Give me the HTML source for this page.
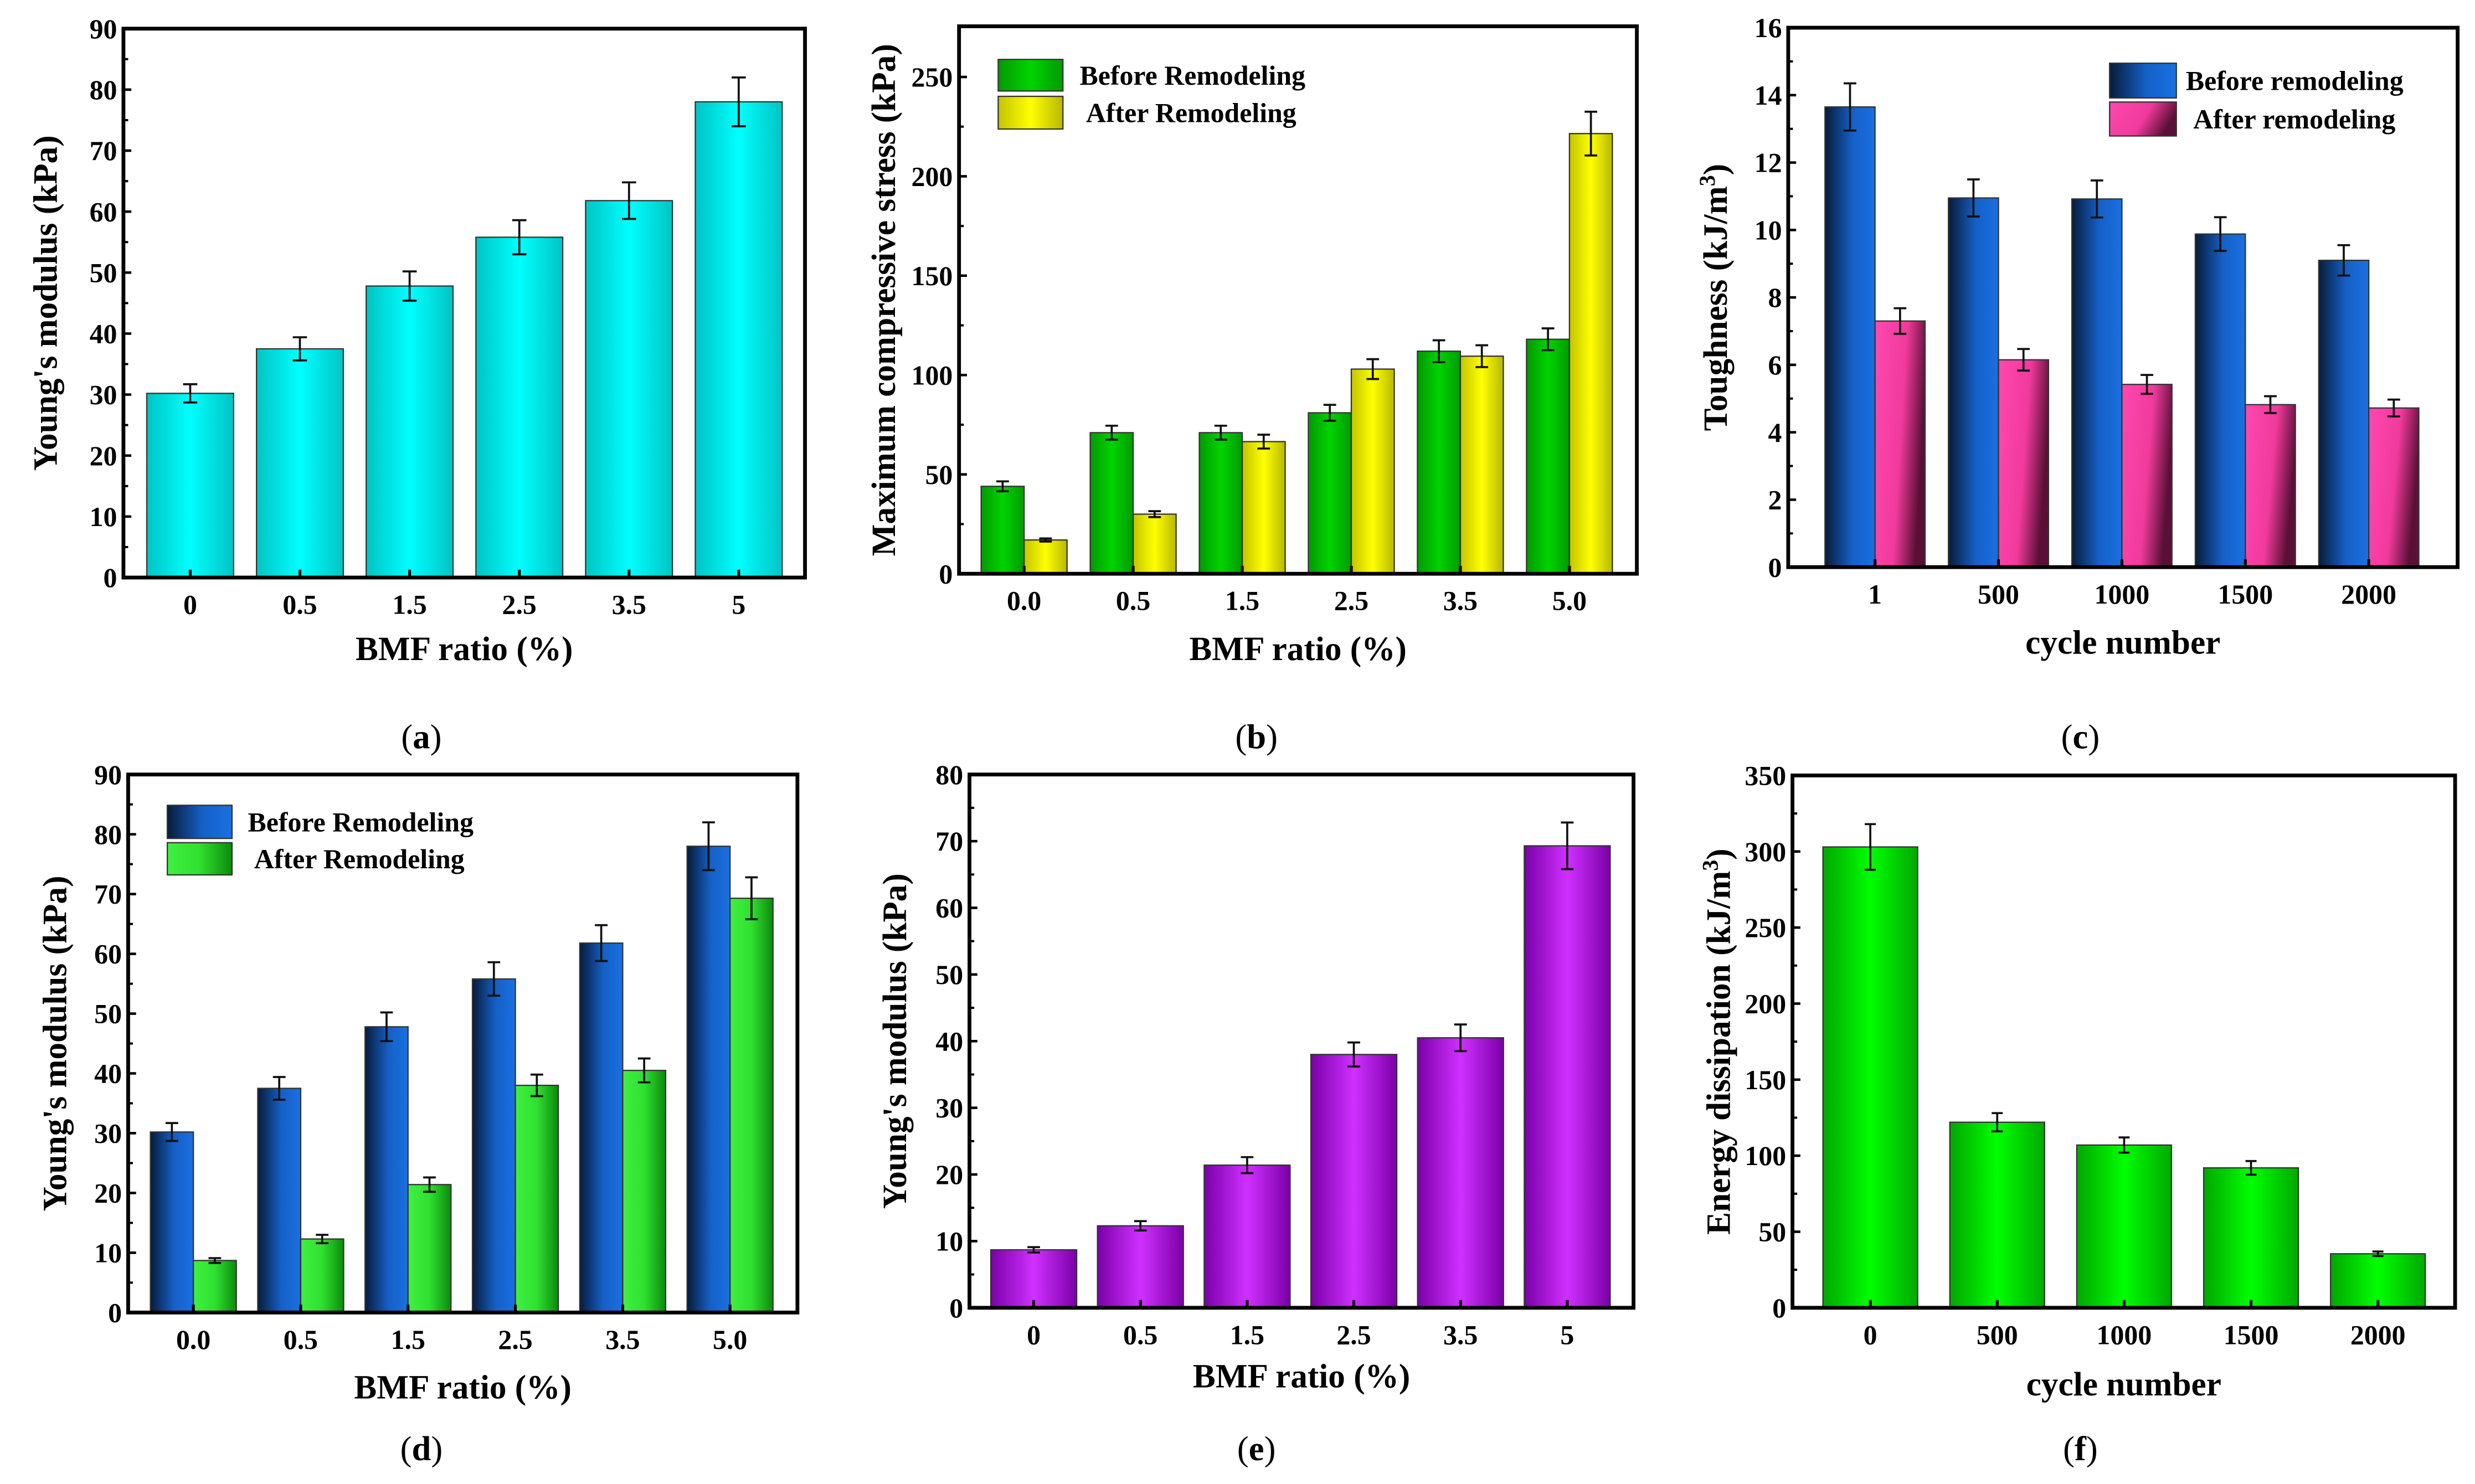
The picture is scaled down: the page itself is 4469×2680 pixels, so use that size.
<!DOCTYPE html>
<html><head><meta charset="utf-8"><style>
html,body{margin:0;padding:0;background:#fff;}
svg{display:block;}
text{font-family:"Liberation Serif",serif;}
</style></head><body>
<svg id="fig" xmlns="http://www.w3.org/2000/svg" width="4469" height="2680" viewBox="0 0 1568 940">
<defs>
<linearGradient id="gCyan" x1="0" x2="1"><stop offset="0" stop-color="#00c4c4"/><stop offset="0.5" stop-color="#00ffff"/><stop offset="1" stop-color="#00c4c4"/></linearGradient>
<linearGradient id="gGreenB" x1="0" x2="1"><stop offset="0" stop-color="#009a00"/><stop offset="0.5" stop-color="#00d400"/><stop offset="1" stop-color="#009a00"/></linearGradient>
<linearGradient id="gYellow" x1="0" x2="1"><stop offset="0" stop-color="#c4c400"/><stop offset="0.5" stop-color="#ffff00"/><stop offset="1" stop-color="#b8b800"/></linearGradient>
<linearGradient id="gBlue" x1="0" x2="1"><stop offset="0" stop-color="#071c3a"/><stop offset="0.55" stop-color="#1560c8"/><stop offset="1" stop-color="#1a70e0"/></linearGradient>
<linearGradient id="gPink" x1="0" x2="1" y1="0" y2="0.3"><stop offset="0" stop-color="#ff48b0"/><stop offset="0.6" stop-color="#f03a9c"/><stop offset="1" stop-color="#5a1036"/></linearGradient>
<linearGradient id="gGreenD" x1="0" x2="1"><stop offset="0" stop-color="#40f040"/><stop offset="0.5" stop-color="#30e030"/><stop offset="1" stop-color="#0c8a0c"/></linearGradient>
<linearGradient id="gPurple" x1="0" x2="1"><stop offset="0" stop-color="#7a00a8"/><stop offset="0.5" stop-color="#d030ff"/><stop offset="1" stop-color="#7a00a8"/></linearGradient>
<linearGradient id="gGreenF" x1="0" x2="1"><stop offset="0" stop-color="#00a800"/><stop offset="0.5" stop-color="#00ff00"/><stop offset="1" stop-color="#00a800"/></linearGradient>
</defs>
</svg>
<script>
// ---- data ----
const bmfCats = ["0","0.5","1.5","2.5","3.5","5"];
const bmfCatsDec = ["0.0","0.5","1.5","2.5","3.5","5.0"];
const cycleCatsC = ["1","500","1000","1500","2000"];
const cycleCatsF = ["0","500","1000","1500","2000"];
const aVals = [30.2,37.5,47.8,55.8,61.8,78];
const aErr = [1.5,1.9,2.4,2.8,3.0,4.0];
const bBefore = [44,71,71,81,112,118];
const bBeforeErr = [2.5,3.5,3.5,4,5.5,5.5];
const bAfter = [17,30,66.5,103,109.5,221.5];
const bAfterErr = [0.8,1.5,3.5,5,5.5,11];
const cBefore = [13.65,10.95,10.92,9.88,9.1];
const cBeforeErr = [0.7,0.55,0.55,0.5,0.45];
const cAfter = [7.3,6.15,5.42,4.82,4.72];
const cAfterErr = [0.38,0.32,0.28,0.25,0.25];
const dBefore = [30.2,37.5,47.8,55.8,61.8,78];
const dBeforeErr = [1.5,1.9,2.4,2.8,3.0,4.0];
const dAfter = [8.7,12.3,21.4,38,40.5,69.3];
const dAfterErr = [0.4,0.7,1.2,1.8,2.0,3.5];
const eVals = [8.7,12.3,21.4,38,40.5,69.3];
const eErr = [0.4,0.7,1.2,1.8,2.0,3.5];
const fVals = [303,122,107,92,35.5];
const fErr = [15,6,5,4.5,1.5];
const aTicks = [0,10,20,30,40,50,60,70,80,90];
const bTicks = [0,50,100,150,200,250];
const cTicks = [0,2,4,6,8,10,12,14,16];
const eTicks = [0,10,20,30,40,50,60,70,80];
const fTicks = [0,50,100,150,200,250,300,350];

const NS="http://www.w3.org/2000/svg";
const svg=document.getElementById('fig');
function mk(tag,attrs,parent,txt){const e=document.createElementNS(NS,tag);for(const k in attrs)e.setAttribute(k,attrs[k]);if(txt!==undefined)e.textContent=txt;(parent||svg).appendChild(e);return e;}

function panel(p){
  const g=mk('g',{});
  
  
  const L=p.L,R=p.R,T=p.T,B=p.B;
  const ys=v=>B-(v-0)/(p.ymax)*(B-T);
  p.series.forEach((s,si)=>{
    s.vals.forEach((v,i)=>{
      const cx=p.centers[0]+(p.centers[1]-p.centers[0])*i;
      const x0=cx+s.off;
      const r=mk('rect',{x:x0,y:ys(v),width:s.w,height:B-ys(v),fill:s.fill,stroke:'#333',"stroke-width":0.8},g);
      
      
      const ex=x0+s.w/2, e=s.err[i], cap=p.cap;
      const eb=mk('path',{d:`M${ex},${ys(v+e)}V${ys(v-e)}M${ex-cap},${ys(v+e)}H${ex+cap}M${ex-cap},${ys(v-e)}H${ex+cap}`,stroke:'#111',"stroke-width":1.3,fill:'none'},g);
      
      
    });
  });
  const fr=mk('rect',{x:L,y:T,width:R-L,height:B-T,fill:'none',stroke:'#000',"stroke-width":2.4},g);
  
  
  p.ticks.forEach((t,i)=>{
    const y=ys(t);
    mk('line',{x1:L,x2:L+5,y1:y,y2:y,stroke:'#000',"stroke-width":1.6},g);
    const tl=mk('text',{x:L-4,y:y+6,"text-anchor":'end',"font-size":17.5,"font-weight":'bold'},g,String(t));
    
    
    if(i<p.ticks.length-1){const ym=ys((t+p.ticks[i+1])/2);mk('line',{x1:L,x2:L+3,y1:ym,y2:ym,stroke:'#000',"stroke-width":1.4},g);}
  });
  p.cats.forEach((c,i)=>{
    const cx=p.centers[0]+(p.centers[1]-p.centers[0])*i;
    mk('line',{x1:cx,x2:cx,y1:B,y2:B-5,stroke:'#000',"stroke-width":1.8},g);
    const tl=mk('text',{x:cx,y:B+23,"text-anchor":'middle',"font-size":17.5,"font-weight":'bold'},g,c);
    
    
  });
  const xt=mk('text',{x:(L+R)/2,y:p.xlY,"text-anchor":'middle',"font-size":21.5,"font-weight":'bold'},g,p.xlabel);
  
  
  const yt=mk('text',{x:0,y:0,"text-anchor":'middle',"font-size":p.ylFs||21.5,"font-weight":'bold',transform:`translate(${p.ylX},${(T+B)/2}) rotate(-90)`},g);
  yt.innerHTML=p.ylabel;
  
  
  const pl=mk('text',{x:p.plX,y:p.plY,"text-anchor":'middle',"font-size":22},g);
  pl.innerHTML='(<tspan font-weight="bold">'+p.id+'</tspan>)';
  
  
  (p.legend||[]).forEach((le,i)=>{
    const r=mk('rect',{x:le.x,y:le.y,width:le.w,height:le.h,fill:le.fill,stroke:'#333',"stroke-width":0.8},g);
    
    
    const t=mk('text',{x:le.tx,y:le.y+le.h/2+6,"font-size":17.5,"font-weight":'bold',"xml:space":'preserve'},g,le.text);
    
    
  });
}

panel({id:'a',name:'panel-a-youngs-modulus',L:78.2,R:510,T:18,B:365.8,ymax:90,ticks:aTicks,cats:bmfCats,centers:[120.5,190],cap:4.5,
  series:[{key:'modulus',vals:aVals,err:aErr,off:-27.5,w:55,fill:'url(#gCyan)'}],
  xlabel:'BMF ratio (%)',xlY:418,ylabel:"Young's modulus (kPa)",ylX:36,plX:267,plY:474});
panel({id:'b',name:'panel-b-compressive-stress',L:607.6,R:1037,T:16.5,B:363.4,ymax:275.5,ticks:bTicks,cats:bmfCatsDec,centers:[648.8,717.9],cap:4,
  series:[{key:'before',vals:bBefore,err:bBeforeErr,off:-27.2,w:27.2,fill:'url(#gGreenB)'},{key:'after',vals:bAfter,err:bAfterErr,off:0,w:27.2,fill:'url(#gYellow)'}],
  legend:[{x:632.4,y:37.5,w:41,h:20,fill:'url(#gGreenB)',tx:684,text:'Before Remodeling'},{x:632.4,y:60.9,w:41,h:20.7,fill:'url(#gYellow)',tx:688,text:'After  Remodeling'}],
  xlabel:'BMF ratio (%)',xlY:418,ylabel:'Maximum compressive stress (kPa)',ylX:567,plX:796,plY:474});
panel({id:'c',name:'panel-c-toughness',L:1132.9,R:1557,T:17.4,B:359.2,ymax:16,ticks:cTicks,cats:cycleCatsC,centers:[1187.9,1266.1],cap:4,
  series:[{key:'before',vals:cBefore,err:cBeforeErr,off:-31.7,w:31.7,fill:'url(#gBlue)'},{key:'after',vals:cAfter,err:cAfterErr,off:0,w:31.7,fill:'url(#gPink)'}],
  legend:[{x:1336.5,y:39.9,w:42.3,h:22,fill:'url(#gBlue)',tx:1384.8,text:'Before remodeling'},{x:1336.5,y:64.5,w:42.3,h:21.5,fill:'url(#gPink)',tx:1389.5,text:'After remodeling'}],
  xlabel:'cycle number',xlY:414,ylabel:'Toughness  (kJ/m<tspan baseline-shift="super" font-size="14">3</tspan>)',ylX:1094,plX:1318,plY:474});
panel({id:'d',name:'panel-d-youngs-modulus-remodeling',L:81.2,R:505.2,T:490.6,B:831.5,ymax:90,ticks:aTicks,cats:bmfCatsDec,centers:[122.5,190.5],cap:4,
  series:[{key:'before',vals:dBefore,err:dBeforeErr,off:-27.2,w:27.2,fill:'url(#gBlue)'},{key:'after',vals:dAfter,err:dAfterErr,off:0,w:27.2,fill:'url(#gGreenD)'}],
  legend:[{x:106,y:510.1,w:41,h:21,fill:'url(#gBlue)',tx:157,text:'Before Remodeling'},{x:106,y:533.8,w:41,h:20.4,fill:'url(#gGreenD)',tx:161,text:'After  Remodeling'}],
  xlabel:'BMF ratio (%)',xlY:886,ylabel:"Young's modulus (kPa)",ylX:42,plX:267,plY:925});
panel({id:'e',name:'panel-e-youngs-modulus-after',L:614.2,R:1034.9,T:490.6,B:828.5,ymax:80,ticks:eTicks,cats:bmfCats,centers:[654.9,722.5],cap:4,
  series:[{key:'modulus',vals:eVals,err:eErr,off:-27.2,w:54.4,fill:'url(#gPurple)'}],
  xlabel:'BMF ratio (%)',xlY:879,ylabel:"Young's modulus (kPa)",ylX:574,plX:796,plY:925});
panel({id:'f',name:'panel-f-energy-dissipation',L:1135.6,R:1555.4,T:491.2,B:828.5,ymax:350,ticks:fTicks,cats:cycleCatsF,centers:[1184.9,1265.3],cap:3.5,
  series:[{key:'energy',vals:fVals,err:fErr,off:-30,w:60,fill:'url(#gGreenF)'}],
  xlabel:'cycle number',xlY:884,ylabel:'Energy dissipation  (kJ/m<tspan baseline-shift="super" font-size="14">3</tspan>)',ylX:1096,plX:1318,plY:925});
</script>
</body></html>
